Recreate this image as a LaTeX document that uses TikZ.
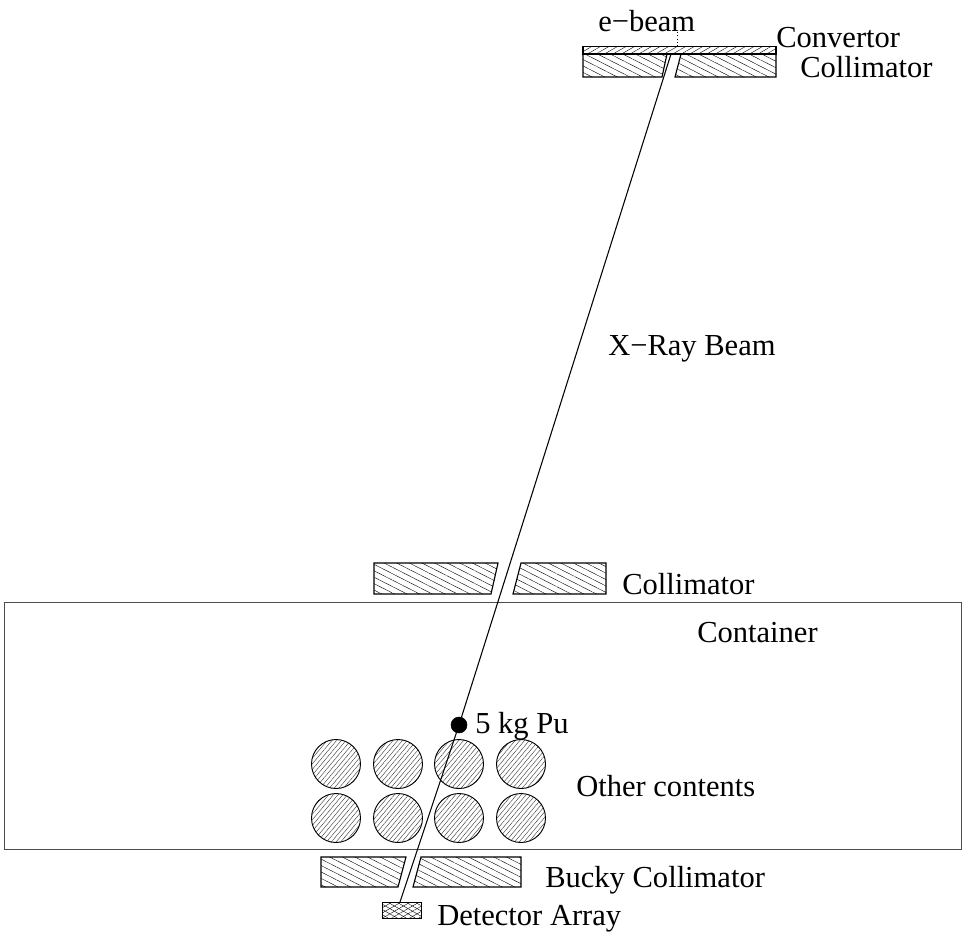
\documentclass[tikz,border=0pt]{standalone}
\usepackage{fontspec}
\setmainfont{Liberation Serif}
\usetikzlibrary{patterns.meta}
\tikzset{
  lbl/.style={anchor=base west,inner sep=0pt,font=\fontsize{22.9pt}{26pt}\selectfont,text=black},
  hatchblock/.style={pattern={Lines[angle=-27,distance=4.3pt,line width=0.3pt]},pattern color=black},
  convblock/.style={pattern={Lines[angle=30,distance=3.2pt,line width=0.3pt]},pattern color=black},
  outline/.style={draw=black,line width=0.85pt},
  ball/.style={draw=black,line width=0.7pt,pattern={Lines[angle=50,distance=2.7pt,line width=0.3pt]},pattern color=black!80},
  beamline/.style={draw=black,line width=0.8pt},
  frame/.style={draw=black!70,line width=0.8pt}
}
\begin{document}
\begin{tikzpicture}[x=0.75pt,y=-0.75pt]
\useasboundingbox (0,0) rectangle (963,940);
% container
\node[frame,minimum width=957*0.75pt,minimum height=247*0.75pt,inner sep=0pt,anchor=north west] (container) at (4,602) {};
% convertor and first collimator
\path[convblock] (583,46.5) rectangle (776,54);
\path[outline] (583,46.5) rectangle (776,54);
\path[hatchblock] (583,54) -- (667,54) -- (662,77) -- (583,77) -- cycle;
\path[outline] (583,54) -- (667,54) -- (662,77) -- (583,77) -- cycle;
\path[hatchblock] (681,54) -- (776,54) -- (776,77) -- (675,77) -- cycle;
\path[outline] (681,54) -- (776,54) -- (776,77) -- (675,77) -- cycle;
% second collimator
\path[hatchblock] (374,563) -- (498,563) -- (491,594) -- (374,594) -- cycle;
\path[outline] (374,563) -- (498,563) -- (491,594) -- (374,594) -- cycle;
\path[hatchblock] (521,563) -- (606,563) -- (606,594) -- (513,594) -- cycle;
\path[outline] (521,563) -- (606,563) -- (606,594) -- (513,594) -- cycle;
% contents
\foreach \i/\cx in {1/336,2/398,3/459,4/521}{
  \foreach \j/\cy in {1/764,2/818}{
    \node[ball,circle,minimum size=49*0.75pt,inner sep=0pt] (c\i\j) at (\cx,\cy) {};
  }
}
% bucky collimator
\path[hatchblock] (321,857) -- (406,857) -- (398,887) -- (321,887) -- cycle;
\path[outline] (321,857) -- (406,857) -- (398,887) -- (321,887) -- cycle;
\path[hatchblock] (421,857) -- (521,857) -- (521,887) -- (413,887) -- cycle;
\path[outline] (421,857) -- (521,857) -- (521,887) -- (413,887) -- cycle;
% detector
\path[pattern={Lines[angle=30,distance=3.4pt,line width=0.3pt]},pattern color=black] (382,902) rectangle (421,918);
\path[pattern={Lines[angle=-30,distance=3.4pt,line width=0.3pt]},pattern color=black] (382,902) rectangle (421,918);
\path[draw=black,line width=0.7pt] (382,902) rectangle (421,918);
% beam
\node[circle,fill=black,draw=black,minimum size=16*0.75pt,inner sep=0pt] (pu) at (459,725) {};
\coordinate (src) at (671,54);
\coordinate (det) at (400,902);
\draw[beamline] (src) -- (pu);
\draw[beamline] (pu) -- (det);
\coordinate (eb) at (677,46);
\coordinate (ebt) at (677,30);
\draw[line width=0.5pt,dotted] (eb) -- (ebt);
% labels
\node[lbl] (tebeam) at (598,31) {e−beam};
\node[lbl] (tconv) at (776,47) {Convertor};
\node[lbl] (tcoll1) at (800,77) {Collimator};
\node[lbl] (txray) at (608,355) {X−Ray Beam};
\node[lbl] (tcoll2) at (622,594) {Collimator};
\node[lbl] (tcont) at (697,642) {Container};
\node[lbl] (tpu) at (475,733) {5 kg Pu};
\node[lbl] (tother) at (576,796) {Other contents};
\node[lbl] (tbucky) at (545,887) {Bucky Collimator};
\node[lbl] (tdet) at (437,925) {Detector Array};
\end{tikzpicture}
\end{document}
